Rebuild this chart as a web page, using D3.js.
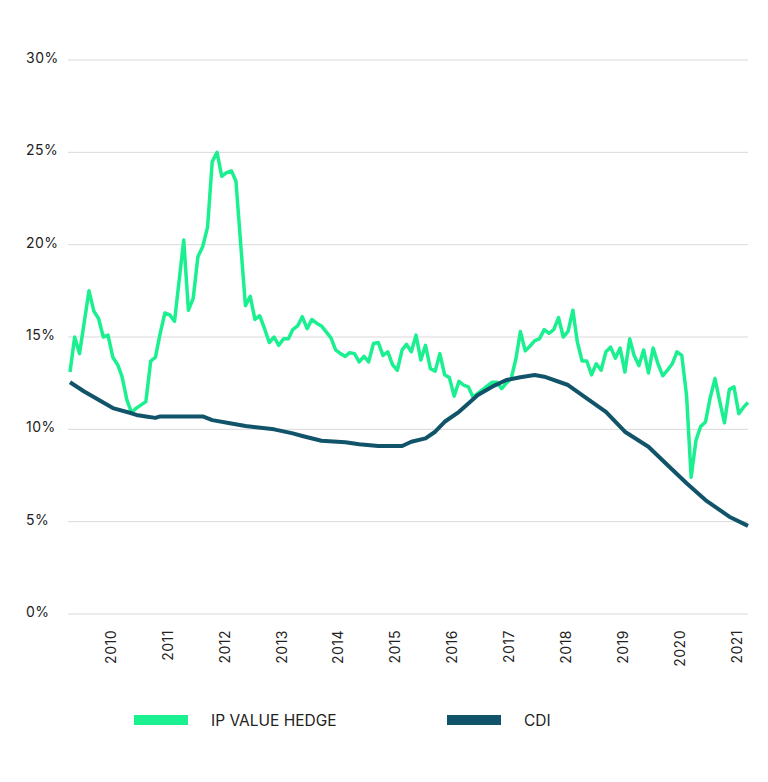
<!DOCTYPE html>
<html>
<head>
<meta charset="utf-8">
<script src="https://cdn.jsdelivr.net/npm/d3@7"></script>
<style>
  body { margin: 0; background: #fff; }
  text { font-family: Inter, "Noto Sans", sans-serif; fill: #222; }
</style>
</head>
<body>
<script>
var width = 768;
var height = 782;

// IP VALUE HEDGE, monthly (a few flat months left out)
var hedgeDates = [
  '2009-04', '2009-05', '2009-06', '2009-08', '2009-09', '2009-10', '2009-11', '2009-12',
  '2010-01', '2010-02', '2010-03', '2010-04', '2010-05', '2010-06', '2010-08', '2010-09', '2010-10', '2010-11', '2010-12',
  '2011-01', '2011-02', '2011-04', '2011-05', '2011-06', '2011-07', '2011-08', '2011-09', '2011-10', '2011-11', '2011-12',
  '2012-01', '2012-02', '2012-03', '2012-04', '2012-05', '2012-06', '2012-07', '2012-08', '2012-09', '2012-10', '2012-11', '2012-12',
  '2013-01', '2013-02', '2013-03', '2013-04', '2013-05', '2013-06', '2013-07', '2013-08', '2013-09', '2013-11', '2013-12',
  '2014-01', '2014-02', '2014-03', '2014-04', '2014-05', '2014-06', '2014-07', '2014-08', '2014-09', '2014-10', '2014-11', '2014-12',
  '2015-01', '2015-02', '2015-03', '2015-04', '2015-05', '2015-06', '2015-07', '2015-08', '2015-09', '2015-10', '2015-11', '2015-12',
  '2016-01', '2016-02', '2016-03', '2016-04', '2016-05', '2016-07', '2016-08', '2016-09', '2016-10', '2016-11', '2016-12',
  '2017-01', '2017-02', '2017-03', '2017-04', '2017-05', '2017-06', '2017-07', '2017-08', '2017-09', '2017-10', '2017-11', '2017-12',
  '2018-01', '2018-02', '2018-03', '2018-04', '2018-05', '2018-06', '2018-07', '2018-08', '2018-09', '2018-10', '2018-11', '2018-12',
  '2019-01', '2019-02', '2019-03', '2019-04', '2019-05', '2019-06', '2019-07', '2019-08', '2019-09', '2019-10', '2019-11', '2019-12',
  '2020-01', '2020-02', '2020-03', '2020-04', '2020-05', '2020-06', '2020-07', '2020-08', '2020-09', '2020-10', '2020-11', '2020-12',
  '2021-01', '2021-02', '2021-03'
];
var hedgeValues = [
  13.1, 15.0, 14.1, 17.5, 16.4, 16.0, 15.0, 15.1,
  13.9, 13.5, 12.85, 11.6, 10.9, 11.15, 11.5, 13.7, 13.9, 15.2, 16.3,
  16.2, 15.85, 20.25, 16.45, 17.1, 19.35, 19.9, 20.95, 24.5, 25.0, 23.7,
  23.9, 24.0, 23.45, 20.0, 16.7, 17.2, 15.95, 16.15, 15.45, 14.7, 15.0, 14.55,
  14.9, 14.9, 15.4, 15.6, 16.1, 15.45, 15.95, 15.75, 15.6, 14.95, 14.3,
  14.1, 13.95, 14.15, 14.1, 13.65, 13.95, 13.65, 14.65, 14.7, 14.0, 14.2, 13.5,
  13.2, 14.3, 14.6, 14.2, 15.1, 13.75, 14.55, 13.3, 13.15, 14.1, 12.95, 12.8,
  11.8, 12.6, 12.4, 12.3, 11.75, 12.15, 12.35, 12.55, 12.55, 12.2, 12.5,
  12.75, 13.85, 15.3, 14.25, 14.5, 14.8, 14.9, 15.4, 15.2, 15.4, 16.05, 15.0,
  15.3, 16.45, 14.75, 13.7, 13.7, 12.95, 13.55, 13.2, 14.2, 14.45, 13.85, 14.4,
  13.1, 14.9, 14.0, 13.45, 14.3, 13.05, 14.4, 13.55, 12.9, 13.2, 13.55, 14.2,
  14.0, 11.8, 7.4, 9.4, 10.15, 10.4, 11.7, 12.75, 11.5, 10.35, 12.15, 12.3,
  10.85, 11.2, 11.45
];

// CDI
var cdiDates = [
  '2009-04', '2009-07', '2009-10', '2010-01', '2010-05', '2010-06', '2010-08', '2010-10', '2010-11',
  '2011-08', '2011-10', '2012-02', '2012-05', '2012-11', '2013-03', '2013-05', '2013-09',
  '2014-02', '2014-05', '2014-09', '2015-02', '2015-04', '2015-07', '2015-09', '2015-11',
  '2016-02', '2016-04', '2016-06', '2016-09', '2016-12', '2017-03', '2017-06', '2017-08',
  '2018-01', '2018-05', '2018-09', '2019-01', '2019-06', '2019-10', '2020-02', '2020-06',
  '2020-11', '2021-03'
];
var cdiValues = [
  12.55, 12.05, 11.6, 11.15, 10.87, 10.78, 10.7, 10.62, 10.7,
  10.7, 10.5, 10.32, 10.18, 10.0, 9.78, 9.64, 9.38,
  9.3, 9.19, 9.1, 9.1, 9.33, 9.51, 9.87, 10.41,
  10.95, 11.4, 11.86, 12.31, 12.67, 12.82, 12.94, 12.85,
  12.4, 11.68, 10.95, 9.87, 9.06, 8.07, 7.08, 6.17,
  5.27, 4.77
];

var yTicks = [0, 5, 10, 15, 20, 25, 30];
var seriesNames = ['IP VALUE HEDGE', 'CDI'];
var seriesColors = ['#1af08f', '#11546a'];

var parseMonth = d3.timeParse('%Y-%m');

function makeSeries(dates, values) {
  return dates.map(function(d, i) {
    return { date: parseMonth(d), value: values[i] };
  });
}

var hedge = makeSeries(hedgeDates, hedgeValues);
var cdi = makeSeries(cdiDates, cdiValues);

var svg = d3.select('body').append('svg')
  .attr('width', width)
  .attr('height', height);

var x = d3.scaleTime()
  .domain([parseMonth('2009-04'), parseMonth('2021-03')])
  .range([70, 748]);

var y = d3.scaleLinear()
  .domain([0, 30])
  .range([614, 60]);

// grid lines + y labels
svg.append('g').selectAll('line')
  .data(yTicks)
  .enter().append('line')
  .attr('x1', 68)
  .attr('x2', 748)
  .attr('y1', function(d) { return y(d); })
  .attr('y2', function(d) { return y(d); })
  .style('stroke', '#d9d9d9')
  .style('stroke-width', 1);

svg.append('g').selectAll('text')
  .data(yTicks)
  .enter().append('text')
  .attr('x', 26)
  .attr('y', function(d) { return y(d) + 3; })
  .style('font-size', '14px')
  .style('letter-spacing', '0.5px')
  .text(function(d) { return d + '%'; });

// x axis, years rotated
var xAxis = svg.append('g')
  .attr('transform', 'translate(0,614)')
  .call(d3.axisBottom(x)
    .ticks(d3.timeYear.every(1))
    .tickFormat(d3.timeFormat('%Y'))
    .tickSize(0));

xAxis.select('.domain').remove();
xAxis.selectAll('text')
  .attr('transform', 'rotate(-90)')
  .attr('x', -16)
  .attr('y', 0)
  .attr('dy', '0.18em')
  .style('text-anchor', 'end')
  .style('font-size', '14px')
  .style('letter-spacing', '0.5px')
  .style('font-family', 'Inter, "Noto Sans", sans-serif')
  .style('fill', '#222');

var line = d3.line()
  .x(function(d) { return x(d.date); })
  .y(function(d) { return y(d.value); });

svg.append('path')
  .datum(hedge)
  .attr('d', line)
  .style('fill', 'none')
  .style('stroke', seriesColors[0])
  .style('stroke-width', 3.5)
  .style('stroke-linejoin', 'round');

svg.append('path')
  .datum(cdi)
  .attr('d', line)
  .style('fill', 'none')
  .style('stroke', seriesColors[1])
  .style('stroke-width', 4)
  .style('stroke-linejoin', 'round');

// legend
var legendX = [134, 447];
var legend = svg.append('g').selectAll('g')
  .data(seriesNames)
  .enter().append('g')
  .attr('transform', function(d, i) { return 'translate(' + legendX[i] + ',715)'; });

legend.append('rect')
  .attr('width', 54)
  .attr('height', 10)
  .style('fill', function(d, i) { return seriesColors[i]; });

legend.append('text')
  .attr('x', 77)
  .attr('y', 10.5)
  .style('font-size', '15.5px')
  .text(function(d) { return d; });
</script>
</body>
</html>
